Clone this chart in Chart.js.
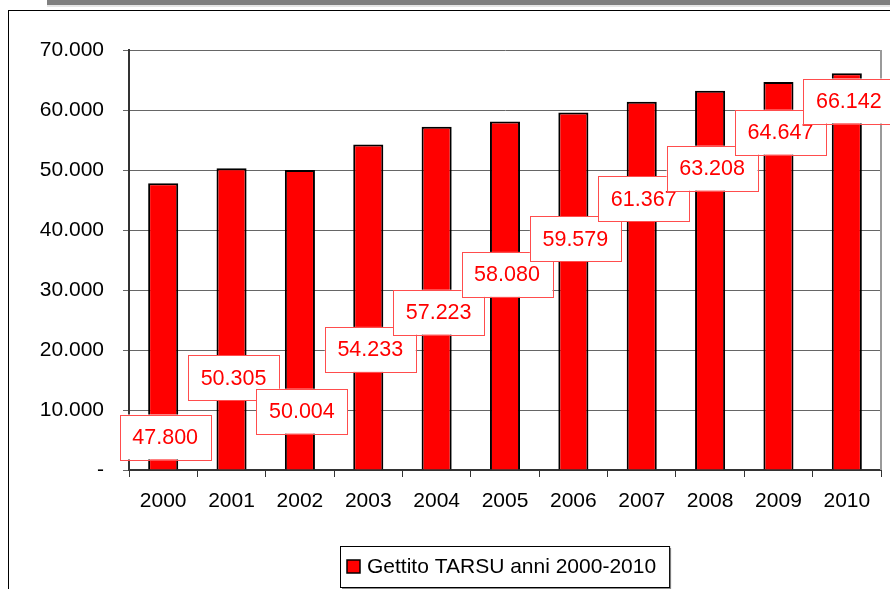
<!DOCTYPE html>
<html>
<head>
<meta charset="utf-8">
<script src="https://cdn.jsdelivr.net/npm/chart.js@4.4.1/dist/chart.umd.min.js"></script>
<style>
  html, body { margin: 0; padding: 0; background: #fff; }
  #wrap { position: relative; width: 890px; height: 589px; overflow: hidden; }
  #topbar { position: absolute; left: 47px; top: 0; width: 843px; height: 5px; background: #7f7f7f; border-bottom: 2px solid #e6e6e6; }
  #frame { position: absolute; left: 8px; top: 10px; width: 900px; height: 600px; border-left: 1px solid #000; border-top: 1px solid #000; }
  #chart { position: absolute; left: 0; top: 0; }
</style>
</head>
<body>
<div id="wrap">
  <div id="topbar"></div>
  <div id="frame"></div>
  <canvas id="chart" width="890" height="589"></canvas>
</div>
<script>
// Data
const years = ['2000', '2001', '2002', '2003', '2004', '2005', '2006', '2007', '2008', '2009', '2010'];
const gettito = [47800, 50305, 50004, 54233, 57223, 58080, 59579, 61367, 63208, 64647, 66142];
const seriesLabel = 'Gettito TARSU anni 2000-2010';
const yTicks = [0, 10000, 20000, 30000, 40000, 50000, 60000, 70000];

// Where the (hand-moved) value labels sit, in axis units
const labelAt = [5500, 15400, 9800, 20100, 26300, 32600, 38500, 45200, 50300, 56300, 61500];

const FONT = 'Arial, "Liberation Sans", sans-serif';

/** Format a number with dots as thousands separator, e.g. 47800 -> 47.800 */
function fmt(v) {
    return String(v).replace(/\B(?=(\d{3})+(?!\d))/g, '.');
}

/** Boxed red value labels, plus the gray right edge of the plot area */
const valueLabels = {
    id: 'valueLabels',
    afterDatasetsDraw(chart) {
        const ctx = chart.ctx;
        const area = chart.chartArea;
        const y = chart.scales.y;
        const meta = chart.getDatasetMeta(0);

        ctx.save();
        ctx.strokeStyle = '#9a9a9a';
        ctx.lineWidth = 2;
        ctx.beginPath();
        ctx.moveTo(area.right, area.top);
        ctx.lineTo(area.right, area.bottom);
        ctx.stroke();

        ctx.font = '21.5px ' + FONT;
        ctx.textAlign = 'center';
        ctx.textBaseline = 'middle';
        meta.data.forEach((bar, i) => {
            const cx = bar.x + 2;
            const cy = y.getPixelForValue(labelAt[i]);
            const w = 91, h = 45;
            ctx.fillStyle = '#fff';
            ctx.fillRect(cx - w / 2, cy - h / 2, w, h);
            ctx.strokeStyle = '#ff4d4d';
            ctx.lineWidth = 1;
            ctx.strokeRect(Math.round(cx - w / 2) + 0.5, Math.round(cy - h / 2) + 0.5, w, h);
            ctx.fillStyle = '#ff0000';
            ctx.fillText(fmt(gettito[i]), cx, cy + 1);
        });
        ctx.restore();
    }
};

/** Framed legend under the plot, centred on the plot area */
const boxLegend = {
    id: 'boxLegend',
    afterDraw(chart) {
        const ctx = chart.ctx;
        const area = chart.chartArea;
        ctx.save();
        ctx.font = '21px ' + FONT;
        const tw = ctx.measureText(seriesLabel).width;
        const w = 7 + 13 + 7 + tw + 13;
        const h = 41;
        const x = Math.round((area.left + area.right) / 2 - w / 2);
        const top = Math.round(area.bottom + 76);

        ctx.fillStyle = '#8c8c8c';
        ctx.fillRect(x + 2, top + 2, w, h);
        ctx.fillStyle = '#fff';
        ctx.fillRect(x, top, w, h);
        ctx.strokeStyle = '#000';
        ctx.lineWidth = 1;
        ctx.strokeRect(x + 0.5, top + 0.5, w, h);

        ctx.fillStyle = '#ff0000';
        ctx.fillRect(x + 7, top + 14, 13, 13);
        ctx.strokeStyle = '#000';
        ctx.lineWidth = 1.5;
        ctx.strokeRect(x + 7, top + 14, 13, 13);

        ctx.fillStyle = '#000';
        ctx.textAlign = 'left';
        ctx.textBaseline = 'middle';
        ctx.fillText(seriesLabel, x + 27, top + h / 2 + 1);
        ctx.restore();
    }
};

new Chart(document.getElementById('chart'), {
    type: 'bar',
    data: {
        labels: years,
        datasets: [{
            label: seriesLabel,
            data: gettito,
            backgroundColor: '#ff0000',
            borderColor: '#000',
            borderWidth: 2,
            barPercentage: 0.44,
            categoryPercentage: 1
        }]
    },
    options: {
        responsive: false,
        animation: false,
        layout: { padding: { left: 0, top: 50, right: 9, bottom: 79 } },
        plugins: {
            legend: { display: false },
            tooltip: { enabled: false }
        },
        scales: {
            x: {
                afterFit(scale) { scale.height = 40; },
                grid: {
                    drawOnChartArea: false,
                    drawTicks: true,
                    tickLength: 7,
                    color: '#333'
                },
                border: { color: '#333', width: 2 },
                ticks: {
                    color: '#000',
                    padding: 12,
                    font: { family: FONT, size: 21 }
                }
            },
            y: {
                min: 0,
                max: 70000,
                afterFit(scale) { scale.width = 129; },
                afterBuildTicks(scale) {
                    scale.ticks = yTicks.map(v => ({ value: v }));
                },
                grid: {
                    color: '#666',
                    lineWidth: 1,
                    tickLength: 6
                },
                border: { color: '#333', width: 2 },
                ticks: {
                    color: '#000',
                    padding: 19,
                    font: { family: FONT, size: 21 },
                    callback: v => (v === 0 ? '-' : fmt(v))
                }
            }
        }
    },
    plugins: [valueLabels, boxLegend]
});
</script>
</body>
</html>
